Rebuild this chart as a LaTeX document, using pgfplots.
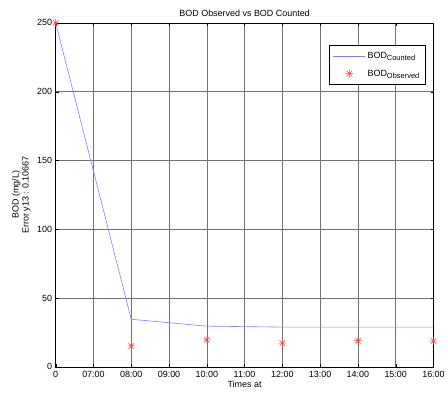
\documentclass[border=0pt]{standalone}
\usepackage{fontspec}
\setmainfont{Liberation Sans}
\usepackage{pgfplots}
\pgfplotsset{compat=1.18}
\definecolor{bodline}{rgb}{0.5,0.5,1}
\definecolor{bodmark}{rgb}{1,0.25,0.25}
\pgfdeclareplotmark{star8}{%
  \pgfpathmoveto{\pgfqpoint{-\pgfplotmarksize}{0pt}}\pgfpathlineto{\pgfqpoint{\pgfplotmarksize}{0pt}}%
  \pgfpathmoveto{\pgfqpoint{0pt}{-\pgfplotmarksize}}\pgfpathlineto{\pgfqpoint{0pt}{\pgfplotmarksize}}%
  \pgfpathmoveto{\pgfqpoint{-0.707\pgfplotmarksize}{-0.707\pgfplotmarksize}}\pgfpathlineto{\pgfqpoint{0.707\pgfplotmarksize}{0.707\pgfplotmarksize}}%
  \pgfpathmoveto{\pgfqpoint{-0.707\pgfplotmarksize}{0.707\pgfplotmarksize}}\pgfpathlineto{\pgfqpoint{0.707\pgfplotmarksize}{-0.707\pgfplotmarksize}}%
  \pgfusepathqstroke}
\newcommand{\sub}[1]{\raisebox{-2.5pt}{\fontsize{7.5}{8}\selectfont #1}}
\pgfplotsset{
  linelegend/.style={legend image code/.code={\draw[##1] (0pt,0pt) -- (32pt,0pt);}},
  marklegend/.style={legend image code/.code={\draw[##1] plot coordinates {(16pt,0pt)};}},
}

\begin{document}
\begin{tikzpicture}
\path (0,0) rectangle (448pt,400pt);
\begin{axis}[
  at={(56pt,31pt)}, anchor=south west,
  scale only axis, width=380pt, height=346pt,
  xmin=0, xmax=10, ymin=0, ymax=250,
  xtick={0,1,...,10},
  xticklabels={0,07:00,08:00,09:00,10:00,11:00,12:00,13:00,14:00,15:00,16:00},
  ytick={0,50,...,250},
  tick align=inside, tick pos=both,
  major tick length=3pt,
  grid=major, grid style={black!55, line width=0.5pt},
  axis line style={black, line width=0.6pt},
  tick style={black},
  /pgf/number format/assume math mode=true,
  tick label style={font=\fontsize{9}{10}\selectfont},
  xticklabel style={yshift=-1pt},
  title={BOD Observed vs BOD Counted},
  title style={font=\fontsize{9}{10}\selectfont, yshift=-3pt},
  xlabel={Times at},
  xlabel style={font=\fontsize{9}{10}\selectfont, yshift=4pt},
  ylabel={BOD (mg/L)\\Error y13 : 0.10667},
  ylabel style={font=\fontsize{9}{10}\selectfont, align=center, yshift=0pt},
  legend style={at={(0.979,0.936)}, anchor=north east, draw=black,
    line width=0.6pt,
    font=\fontsize{9}{10}\selectfont, inner xsep=4pt, inner ysep=5pt, row sep=6pt,
    legend cell align=left},
]
\addplot[color=bodline, line width=0.6pt, linelegend] coordinates {
 (0,250) (2,34.6) (4,29.6) (6,28.9) (8,28.9) (10,28.9)
};
\addlegendentry{BOD\sub{Counted}}
\addplot[only marks, mark=star8, mark size=4pt, color=bodmark, mark options={line width=0.5pt}, marklegend] coordinates {
 (0,250) (2,15.2) (4,19.7) (6,17.3) (8,19.0) (10,18.8)
};
\addlegendentry{BOD\sub{Observed}}
\end{axis}
\end{tikzpicture}
\end{document}
